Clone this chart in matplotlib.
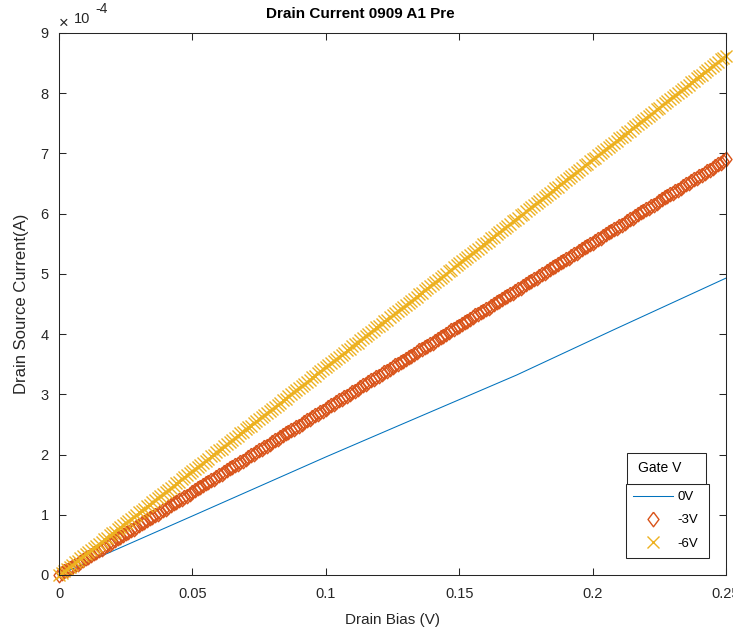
import numpy as np
import matplotlib
matplotlib.use("Agg")
import matplotlib.pyplot as plt
from matplotlib.patches import Rectangle
from matplotlib.ticker import FuncFormatter

plt.rcParams["font.family"] = ["Liberation Sans", "DejaVu Sans"]

# drain bias sweep, 1 mV steps from 0 to 250 mV
drain_bias = np.arange(0, 251) * 1e-3

# gate 0 V trace (coarse line)
bias_0v = [0.0, 0.01, 0.05, 0.1, 0.1278, 0.1715, 0.2078, 0.25]
current_0v_uA = [0, 20, 98, 196, 249, 332, 407, 493]

# gate -3 V trace [uA]
current_3v_uA = [
    0, 3, 6, 8, 11, 14, 17, 19, 22, 25, 28, 30, 33, 36, 39, 41, 44, 47, 50, 52,
    55, 58, 61, 63, 66, 69, 72, 75, 77, 80, 83, 86, 88, 91, 94, 97, 99, 102, 105, 108,
    110, 113, 116, 119, 121, 124, 127, 130, 132, 135, 138, 141, 144, 146, 149, 152, 155, 157, 160, 163,
    166, 168, 171, 174, 177, 179, 182, 185, 188, 190, 193, 196, 199, 201, 204, 207, 210, 213, 215, 218,
    221, 224, 226, 229, 232, 235, 237, 240, 243, 246, 248, 251, 254, 257, 259, 262, 265, 268, 270, 273,
    276, 279, 282, 284, 287, 290, 293, 295, 298, 301, 304, 306, 309, 312, 315, 317, 320, 323, 326, 328,
    331, 334, 337, 339, 342, 345, 348, 351, 353, 356, 359, 362, 364, 367, 370, 373, 375, 378, 381, 384,
    386, 389, 392, 395, 397, 400, 403, 406, 408, 411, 414, 417, 420, 422, 425, 428, 431, 433, 436, 439,
    442, 444, 447, 450, 453, 455, 458, 461, 464, 466, 469, 472, 475, 477, 480, 483, 486, 489, 491, 494,
    497, 500, 502, 505, 508, 511, 513, 516, 519, 522, 524, 527, 530, 533, 535, 538, 541, 544, 546, 549,
    552, 555, 558, 560, 563, 566, 569, 571, 574, 577, 580, 582, 585, 588, 591, 593, 596, 599, 602, 604,
    607, 610, 613, 615, 618, 621, 624, 627, 629, 632, 635, 638, 640, 643, 646, 649, 651, 654, 657, 660,
    662, 665, 668, 671, 673, 676, 679, 682, 684, 687, 690,
]

# gate -6 V trace [uA]
current_6v_uA = [
    0, 3, 7, 10, 14, 17, 21, 24, 28, 31, 35, 38, 41, 45, 48, 52, 55, 59, 62, 66,
    69, 72, 76, 79, 83, 86, 90, 93, 97, 100, 104, 107, 110, 114, 117, 121, 124, 128, 131, 135,
    138, 141, 145, 148, 152, 155, 159, 162, 166, 169, 173, 176, 179, 183, 186, 190, 193, 197, 200, 204,
    207, 210, 214, 217, 221, 224, 228, 231, 235, 238, 242, 245, 248, 252, 255, 259, 262, 266, 269, 273,
    276, 279, 283, 286, 290, 293, 297, 300, 304, 307, 311, 314, 317, 321, 324, 328, 331, 335, 338, 342,
    345, 348, 352, 355, 359, 362, 366, 369, 373, 376, 380, 383, 386, 390, 393, 397, 400, 404, 407, 411,
    414, 417, 421, 424, 428, 431, 435, 438, 442, 445, 449, 452, 455, 459, 462, 466, 469, 473, 476, 480,
    483, 486, 490, 493, 497, 500, 504, 507, 511, 514, 518, 521, 524, 528, 531, 535, 538, 542, 545, 549,
    552, 555, 559, 562, 566, 569, 573, 576, 580, 583, 587, 590, 593, 597, 600, 604, 607, 611, 614, 618,
    621, 624, 628, 631, 635, 638, 642, 645, 649, 652, 656, 659, 662, 666, 669, 673, 676, 680, 683, 687,
    690, 693, 697, 700, 704, 707, 711, 714, 718, 721, 725, 728, 731, 735, 738, 742, 745, 749, 752, 756,
    759, 762, 766, 769, 773, 776, 780, 783, 787, 790, 794, 797, 800, 804, 807, 811, 814, 818, 821, 825,
    828, 831, 835, 838, 842, 845, 849, 852, 856, 859, 862,
]

gate_labels = ["0V", "-3V", "-6V"]
x_ticks = [0, 0.05, 0.1, 0.15, 0.2, 0.25]
y_ticks = np.arange(0, 10) * 1e-4

BLUE = "#0072BD"
ORANGE = "#D95319"
YELLOW = "#EDB120"
AXC = "#262626"

# slightly tall diamond, like the matlab one
diamond = [(0, 1), (0.75, 0), (0, -1), (-0.75, 0), (0, 1)]

fig = plt.figure(figsize=(7.33, 6.31), dpi=100)
ax = fig.add_axes([59 / 733, 56 / 631, 667 / 733, 542 / 631])

ax.plot(bias_0v, np.array(current_0v_uA) * 1e-6, color=BLUE, lw=0.75, label=gate_labels[0])
ax.plot(drain_bias, np.array(current_3v_uA) * 1e-6, ls="none", marker=diamond, ms=10.5,
        mfc="none", mec=ORANGE, mew=1.0, label=gate_labels[1], clip_on=False)
ax.plot(drain_bias, np.array(current_6v_uA) * 1e-6, ls="none", marker="x", ms=8,
        mec=YELLOW, mew=1.0, label=gate_labels[2], clip_on=False)

ax.set_xlim(0, 0.25)
ax.set_ylim(0, 9e-4)
ax.set_xticks(x_ticks)
ax.set_xticklabels([f"{v:g}" for v in x_ticks])
ax.set_yticks(y_ticks)
ax.yaxis.set_major_formatter(FuncFormatter(lambda v, _: f"{v * 1e4:.0f}"))
ax.tick_params(direction="in", length=5, width=0.75, colors=AXC, labelsize=10.5,
               top=True, right=True)
ax.tick_params(axis="x", pad=8.5)
ax.tick_params(axis="y", pad=7.5)
for s in ax.spines.values():
    s.set_color(AXC)
    s.set_linewidth(0.75)

# exponent label in the corner
ax.text(0.0, 1 + 5 / 542, "\u00d7", transform=ax.transAxes, fontsize=12, color=AXC,
        ha="left", va="baseline")
ax.text(0.023, 1 + 10 / 542, "10", transform=ax.transAxes, fontsize=10.5, color=AXC,
        ha="left", va="baseline")
ax.text(0.055, 1 + 20 / 542, "-4", transform=ax.transAxes, fontsize=10, color=AXC,
        ha="left", va="baseline")

ax.set_xlabel("Drain Bias (V)", fontsize=11, color=AXC, labelpad=8.5)
ax.set_ylabel("Drain Source Current(A)", fontsize=12, color=AXC, labelpad=8)
ax.set_title("Drain Current 0909 A1 Pre", fontsize=11, fontweight="bold", pad=11,
             x=0.451)

# legend frame and title box drawn as separate boxes
leg_x, leg_y, leg_w, leg_h = 0.8501, 0.0314, 0.1244, 0.1365
ax.add_patch(Rectangle((leg_x, leg_y), leg_w, leg_h, transform=ax.transAxes,
                       facecolor="white", edgecolor=AXC, lw=0.75, clip_on=False, zorder=4))
ax.add_patch(Rectangle((0.8516, leg_y + leg_h), 0.1186, 0.0572, transform=ax.transAxes,
                       facecolor="white", edgecolor=AXC, lw=0.75, clip_on=False, zorder=4))
ax.text(0.8516 + 0.0165, leg_y + leg_h + 0.0286, "Gate V", transform=ax.transAxes,
        fontsize=10, color="black", ha="left", va="center", zorder=6)

leg = ax.legend(loc="upper left", bbox_to_anchor=(leg_x, leg_y + leg_h), borderaxespad=0,
                fontsize=9.5, frameon=False, handlelength=3.0, handletextpad=0.4,
                labelspacing=0.83, borderpad=0.53)
leg.set_zorder(6)

fig.savefig("out.png", dpi=100)
